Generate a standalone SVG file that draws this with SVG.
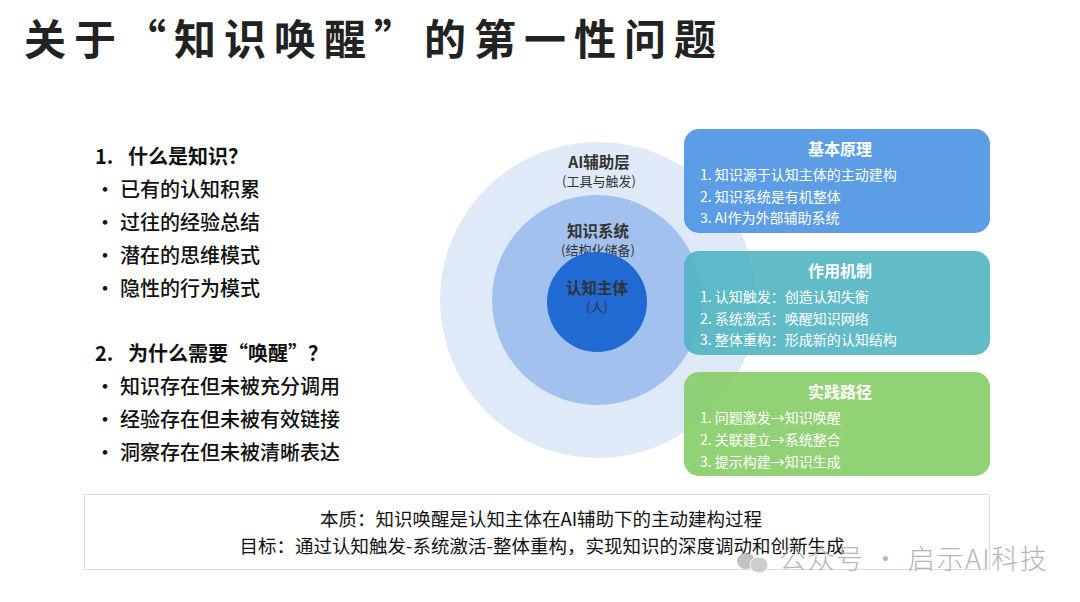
<svg xmlns="http://www.w3.org/2000/svg" width="1080" height="602" viewBox="0 0 1080 602">
<style>
text{font-family:"Noto Sans CJK SC","Liberation Sans",sans-serif;}
.title{font-size:42px;font-weight:700;fill:#222;letter-spacing:8px;}
.lh{font-size:20px;font-weight:700;fill:#111;}
.li{font-size:20px;font-weight:500;fill:#111;}
.cl{font-size:15.5px;font-weight:700;fill:#333;text-anchor:middle;}
.cs{font-size:13px;fill:#333;text-anchor:middle;}
.bt{font-size:16px;font-weight:700;fill:#fff;text-anchor:middle;}
.bi{font-size:14px;fill:#fff;}
.ft{font-size:18.5px;fill:#111;text-anchor:middle;}
.wm{font-size:27px;font-weight:300;fill:#aaaaaa;letter-spacing:1.5px;}
</style>
<rect width="1080" height="602" fill="#fff"/>
<text class="title" x="24" y="55">关于“知识唤醒”的第一性问题</text>

<g id="left-list">
<text class="lh" x="95" y="164">1.</text><text class="lh" x="128" y="164">什么是知识？</text>
<text class="li" x="95" y="197">•</text><text class="li" x="120" y="197">已有的认知积累</text>
<text class="li" x="95" y="230">•</text><text class="li" x="120" y="230">过往的经验总结</text>
<text class="li" x="95" y="263">•</text><text class="li" x="120" y="263">潜在的思维模式</text>
<text class="li" x="95" y="296">•</text><text class="li" x="120" y="296">隐性的行为模式</text>
<text class="lh" x="95" y="361">2.</text><text class="lh" x="128" y="361">为什么需要“唤醒”？</text>
<text class="li" x="95" y="394">•</text><text class="li" x="120" y="394">知识存在但未被充分调用</text>
<text class="li" x="95" y="427">•</text><text class="li" x="120" y="427">经验存在但未被有效链接</text>
<text class="li" x="95" y="460">•</text><text class="li" x="120" y="460">洞察存在但未被清晰表达</text>
</g>

<g id="circle-ai">
<circle cx="598" cy="300" r="158" fill="#dfe9f8"/>
<text class="cl" x="599" y="168">AI辅助层</text>
<text class="cs" x="599" y="186">(工具与触发)</text>
</g>
<g id="circle-system">
<circle cx="597" cy="300" r="105" fill="#a2c1ee"/>
<text class="cl" x="598" y="237">知识系统</text>
<text class="cs" x="598" y="255">(结构化储备)</text>
</g>
<g id="circle-subject">
<circle cx="597" cy="302" r="50" fill="#2169d3"/>
<text class="cl" x="597" y="294">认知主体</text>
<text class="cs" x="597" y="312">(人)</text>
</g>

<g id="box-principle">
<rect x="684" y="129" width="306" height="104" rx="15" fill="#5096e4" fill-opacity="0.93"/>
<text class="bt" x="840" y="155">基本原理</text>
<text class="bi" x="700" y="180">1. 知识源于认知主体的主动建构</text>
<text class="bi" x="700" y="202">2. 知识系统是有机整体</text>
<text class="bi" x="700" y="223">3. AI作为外部辅助系统</text>
</g>
<g id="box-mechanism">
<rect x="684" y="251" width="306" height="104" rx="15" fill="#50b5c1" fill-opacity="0.9"/>
<text class="bt" x="840" y="277">作用机制</text>
<text class="bi" x="700" y="302">1. 认知触发：创造认知失衡</text>
<text class="bi" x="700" y="324">2. 系统激活：唤醒知识网络</text>
<text class="bi" x="700" y="345">3. 整体重构：形成新的认知结构</text>
</g>
<g id="box-practice">
<rect x="684" y="372" width="306" height="104" rx="15" fill="#86cd68" fill-opacity="0.9"/>
<text class="bt" x="840" y="398">实践路径</text>
<text class="bi" x="700" y="423">1. 问题激发→知识唤醒</text>
<text class="bi" x="700" y="445">2. 关联建立→系统整合</text>
<text class="bi" x="700" y="467">3. 提示构建→知识生成</text>
</g>

<g id="summary">
<rect x="84.5" y="494.5" width="905" height="75" fill="#fff" stroke="#dddddd" stroke-width="1"/>
<text class="ft" x="541" y="526">本质：知识唤醒是认知主体在AI辅助下的主动建构过程</text>
<text class="ft" x="542" y="553">目标：通过认知触发-系统激活-整体重构，实现知识的深度调动和创新生成</text>
</g>

<g id="watermark" opacity="0.85">
<ellipse cx="746" cy="561" rx="9" ry="8" fill="#b8b8b8"/>
<ellipse cx="759" cy="565" rx="9" ry="8" fill="#c4c4c4" stroke="#fff" stroke-width="1"/>
<text class="wm" x="779" y="569">公众号 · 启示AI科技</text>
</g>
</svg>
